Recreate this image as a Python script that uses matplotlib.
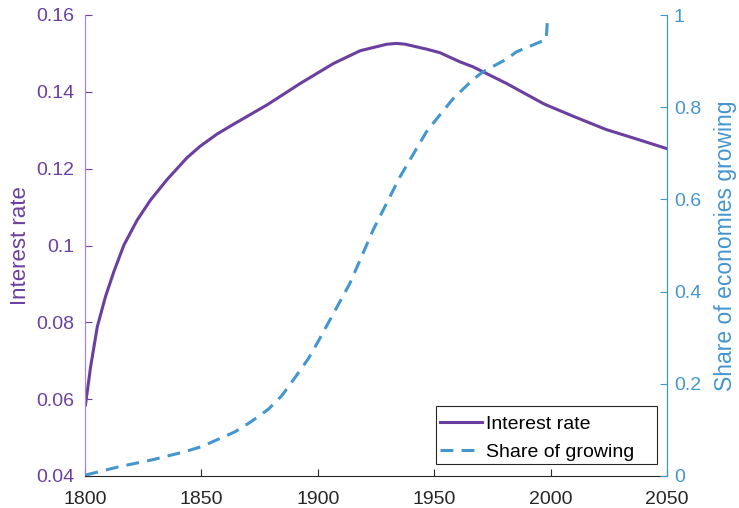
import matplotlib
matplotlib.use("Agg")
import matplotlib.pyplot as plt
from matplotlib.patches import Rectangle

plt.rcParams['font.family'] = ['Liberation Sans', 'DejaVu Sans']

# Interest rate series
ir_years = [1800.2, 1802.4, 1805.3, 1808.8, 1812.4, 1816.7, 1822.4, 1828.1, 1835.3,
            1843.9, 1849.6, 1856.7, 1863.9, 1878.2, 1892.5, 1906.8, 1918.2, 1929.7,
            1933.9, 1937.5, 1946.8, 1952.4, 1961.1, 1966.7, 1981.0, 1996.7, 1998.1,
            2009.5, 2023.8, 2038.1, 2050]
ir_values = [0.0585, 0.0684, 0.0789, 0.0867, 0.0932, 0.1001, 0.1066, 0.1118, 0.1172,
             0.1229, 0.1259, 0.1290, 0.1316, 0.1366, 0.1422, 0.1474, 0.1507, 0.1524,
             0.1526, 0.1524, 0.1511, 0.1502, 0.1478, 0.1465, 0.1422, 0.1370, 0.1366,
             0.1337, 0.1302, 0.1275, 0.1252]

# Share of economies growing
sh_years = [1800.2, 1814.5, 1828.8, 1843.1, 1850.2, 1864.5, 1871.4, 1878.8, 1884.5,
            1890.0, 1896.0, 1900.5, 1913.8, 1923.8, 1935.3, 1946.7, 1952.4, 1958.2,
            1966.7, 1971.0, 1981.0, 1985.3, 1998.1, 1998.8]
sh_values = [0.002, 0.020, 0.035, 0.053, 0.064, 0.096, 0.118, 0.145, 0.174,
             0.212, 0.255, 0.295, 0.418, 0.534, 0.649, 0.747, 0.783, 0.819,
             0.860, 0.877, 0.904, 0.920, 0.947, 1.0]

x_ticks = [1800, 1850, 1900, 1950, 2000, 2050]
left_ticks = [0.04, 0.06, 0.08, 0.1, 0.12, 0.14, 0.16]
left_labels = ['0.04', '0.06', '0.08', '0.1', '0.12', '0.14', '0.16']
right_ticks = [0, 0.2, 0.4, 0.6, 0.8, 1]
right_labels = ['0', '0.2', '0.4', '0.6', '0.8', '1']

purple = '#6b3fa0'
blue = '#4496cf'

fig = plt.figure(figsize=(7.39, 5.08), dpi=100)
ax = fig.add_axes([85/739, 1-476/508, (667-85)/739, (476-15)/508])
ax2 = ax.twinx()

l1, = ax.plot(ir_years, ir_values, color=purple, lw=2.2, label='Interest rate',
              solid_joinstyle='round')
l2, = ax2.plot(sh_years, sh_values, color=blue, lw=2.2, ls=(0, (4.2, 2.7)),
               label='Share of growing', dash_joinstyle='round')

ax.set_xlim(1800, 2050)
ax.set_ylim(0.04, 0.16)
ax2.set_ylim(0, 1)
ax.set_xticks(x_ticks)
ax.set_xticklabels([str(t) for t in x_ticks])
ax.set_yticks(left_ticks)
ax.set_yticklabels(left_labels)
ax2.set_yticks(right_ticks)
ax2.set_yticklabels(right_labels)

fs = 14
ax.tick_params(axis='x', direction='in', length=5, width=0.8, colors='#262626',
               labelcolor='#262626', labelsize=fs, pad=11)
ax.tick_params(axis='y', direction='in', length=5, width=0.8, colors=purple,
               labelsize=fs, pad=8)
ax2.tick_params(axis='y', direction='in', length=5, width=0.8, colors=blue,
                labelsize=fs, pad=5)

for a in (ax, ax2):
    a.spines['top'].set_visible(False)
ax.spines['right'].set_visible(False)
ax2.spines['left'].set_visible(False)
ax2.spines['bottom'].set_visible(False)
ax.spines['left'].set_color('#a58bc9')
ax.spines['left'].set_linewidth(0.9)
ax.spines['bottom'].set_color('#262626')
ax.spines['bottom'].set_linewidth(0.8)
ax2.spines['right'].set_color(blue)
ax2.spines['right'].set_linewidth(0.9)

ax.set_ylabel('Interest rate', color=purple, fontsize=16)
ax.yaxis.set_label_coords(-(85-31)/582, 0.5)
ax2.set_ylabel('Share of economies growing', color=blue, fontsize=16.5)
ax2.yaxis.set_label_coords(1 + (714-667)/582, 0.5)

# legend frame (MATLAB-style padding)
frame = Rectangle((436/739, 1-464/508), (657-436)/739, (464-406)/508,
                  transform=fig.transFigure, facecolor='white', edgecolor='#262626',
                  lw=0.8, zorder=4, clip_on=False)
ax2.add_patch(frame)

leg = ax2.legend(handles=[l1, l2], loc='upper left',
                 bbox_to_anchor=((440-85)/582, (476-415)/461),
                 fontsize=14, frameon=False, handlelength=2.16, handletextpad=0.22,
                 borderpad=0, labelspacing=0.56, borderaxespad=0)
leg.set_zorder(5)

fig.savefig('out.png', dpi=100)
